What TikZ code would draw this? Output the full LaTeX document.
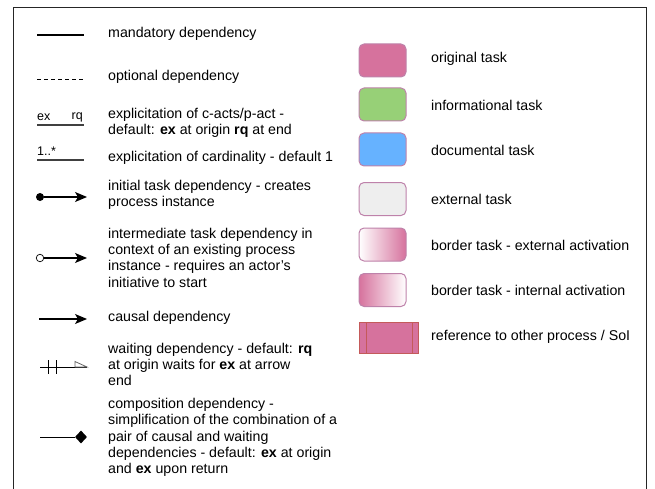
\documentclass[tikz,border=0pt]{standalone}
\usepackage{fontspec}
\setmainfont{Liberation Sans}
\usetikzlibrary{arrows.meta,shapes.geometric}
\definecolor{pinkfill}{RGB}{214,114,157}
\definecolor{mauve}{RGB}{190,130,170}
\definecolor{greenfill}{RGB}{151,208,119}
\definecolor{bluefill}{RGB}{102,178,255}
\definecolor{extfill}{RGB}{238,238,238}
\definecolor{refborder}{RGB}{196,90,90}
\definecolor{lightgray2}{RGB}{100,100,100}
\tikzset{
  txt/.style={anchor=west, align=left, inner sep=0pt, font=\fontsize{14.2}{16.3}\selectfont},
  smalltxt/.style={inner sep=0pt, font=\fontsize{12.5}{13}\selectfont},
  symline/.style={line width=1.1pt, black},
  arr/.style={line width=1.1pt, -{Stealth[length=12pt,width=10pt,inset=3pt]}},
  taskbox/.style={draw=mauve, line width=1pt, rounded corners=5pt, minimum width=47pt, minimum height=33pt, inner sep=0pt},
  frameline/.style={line width=1.4pt, black!85},
}
\begin{document}
\begin{tikzpicture}[x=1pt,y=-1pt]
\useasboundingbox (0,0) rectangle (655,489);
% frame
\coordinate (fbl) at (13.5,492);
\coordinate (ftl) at (13.5,7.5);
\coordinate (ftr) at (646.5,7.5);
\coordinate (fbr) at (646.5,492);
\draw[frameline] (fbl) -- (ftl) -- (ftr) -- (fbr);

% mandatory
\coordinate (ma) at (37,35); \coordinate (mb) at (84,35);
\draw[symline] (ma) -- (mb);
\node[txt] (mt) at (108,34) {mandatory dependency};

% optional
\coordinate (oa) at (37,79); \coordinate (ob) at (84,79);
\draw[line width=0.8pt, dash pattern=on 4pt off 3pt] (oa) -- (ob);
\node[txt] (ot) at (108,77) {optional dependency};

% ex rq
\node[smalltxt, anchor=west] (ex) at (37,117) {ex};
\node[smalltxt, anchor=east] (rq) at (83,117) {rq};
\coordinate (ea) at (37,125); \coordinate (eb) at (84,125);
\draw[line width=1.4pt, black!75] (ea) -- (eb);
\node[txt] (et) at (108,123) {explicitation of c-acts/p-act -\\default: \textbf{ex} at origin \textbf{rq} at end};

% cardinality
\node[smalltxt, anchor=west] (card) at (37,151) {1..*};
\coordinate (ca) at (37,160); \coordinate (cb) at (84,160);
\draw[line width=1.4pt, black!75] (ca) -- (cb);
\node[txt] (ct) at (108,158) {explicitation of cardinality - default 1};

% initial
\node[circle, fill=black, inner sep=0pt, minimum size=8pt] (id) at (40,197) {};
\coordinate (ib) at (87,197);
\draw[arr] (id) -- (ib);
\node[txt] (it) at (108,195) {initial task dependency - creates\\process instance};

% intermediate
\node[circle, draw=black, line width=0.7pt, fill=white, inner sep=0pt, minimum size=7.5pt] (nd) at (40,258) {};
\coordinate (nb) at (87,258);
\draw[arr] (nd) -- (nb);
\node[txt] (nt) at (108,257.5) {intermediate task dependency in\\context of an existing process\\instance - requires an actor's\\initiative to start};

% causal
\coordinate (sa) at (39,319); \coordinate (sb) at (87,319);
\draw[arr] (sa) -- (sb);
\node[txt] (st) at (108,318) {causal dependency};

% waiting
\coordinate (wa) at (40,367); \coordinate (wb) at (87,367);
\draw[line width=1pt] (wa) -- (wb);
\coordinate (w1a) at (48,360); \coordinate (w1b) at (48,374);
\coordinate (w2a) at (56,360); \coordinate (w2b) at (56,374);
\draw[line width=1pt] (w1a) -- (w1b);
\draw[line width=1pt] (w2a) -- (w2b);
\coordinate (wt1) at (75,361.5); \coordinate (wt2) at (75,367);
\draw[line width=0.8pt, draw=lightgray2, fill=white, line join=miter] (wt1) -- (wb) -- (wt2) -- cycle;
\node[txt] (wt) at (108,364.5) {waiting dependency - default: \textbf{rq}\\at origin waits for \textbf{ex} at arrow\\end};

% composition
\coordinate (pa) at (40,437);
\node[diamond, fill=black, inner sep=0pt, minimum width=12pt, minimum height=13pt] (pd) at (81,437) {};
\draw[line width=1pt] (pa) -- (pd.west);
\node[txt] (pt) at (108,437.5) {composition dependency -\\simplification of the combination of a\\pair of causal and waiting\\dependencies - default: \textbf{ex} at origin\\and \textbf{ex} upon return};

% right column boxes
\node[taskbox, fill=pinkfill] (b1) at (382.5,60.5) {};
\node[txt] (t1) at (431,59) {original task};
\node[taskbox, fill=greenfill] (b2) at (382.5,104.5) {};
\node[txt] (t2) at (431,105) {informational task};
\node[taskbox, fill=bluefill] (b3) at (382.5,149.5) {};
\node[txt] (t3) at (431,150) {documental task};
\node[taskbox, fill=extfill] (b4) at (382.5,199) {};
\node[txt] (t4) at (431,199) {external task};
\node[taskbox, left color=white, right color=pinkfill] (b5) at (382.5,244.5) {};
\node[txt] (t5) at (431,245) {border task - external activation};
\node[taskbox, left color=pinkfill, right color=white] (b6) at (382.5,290) {};
\node[txt] (t6) at (431,290) {border task - internal activation};
\node[draw=refborder, fill=pinkfill, line width=1pt, minimum width=59pt, minimum height=31pt, inner sep=0pt] (b7) at (388.5,337.5) {};
\coordinate (r1a) at (366,322); \coordinate (r1b) at (366,353);
\coordinate (r2a) at (412,322); \coordinate (r2b) at (412,353);
\draw[refborder, line width=1pt] (r1a) -- (r1b);
\draw[refborder, line width=1pt] (r2a) -- (r2b);
\node[txt] (t7) at (431,337) {reference to other process / SoI};
\end{tikzpicture}
\end{document}
